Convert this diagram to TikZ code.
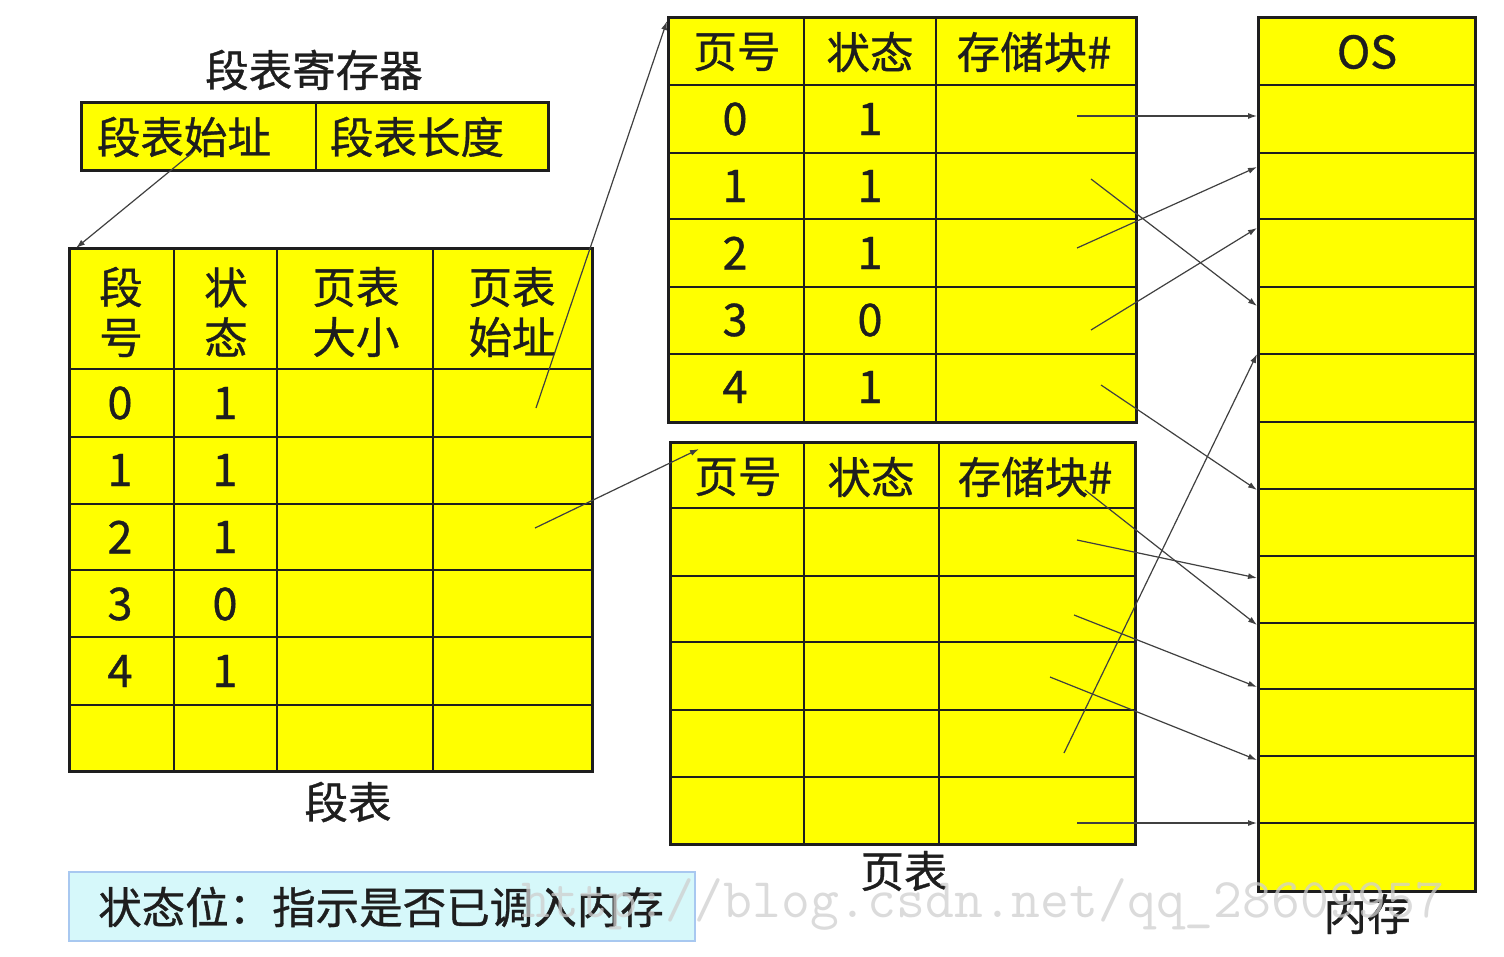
\documentclass[tikz,border=0pt]{standalone}
\usepackage{fontspec}
\newfontfamily\cjk[FakeBold=0.8]{Noto Sans CJK SC}
\usetikzlibrary{arrows.meta}
\definecolor{ybox}{HTML}{FFFF00}
\definecolor{ink}{HTML}{1E1E1E}
\definecolor{legfill}{HTML}{D6F8FA}
\definecolor{legline}{HTML}{A8C8F0}
\definecolor{wm}{HTML}{CFCFCF}
\begin{document}
\begin{tikzpicture}[x=1pt,y=-1pt,
  cjktext/.style={font=\cjk\fontsize{43.5}{50}\selectfont, text=ink, inner sep=0pt, align=center},
  digit/.style={font=\cjk\fontsize{45}{50}\selectfont, text=ink, inner sep=0pt},
  outer/.style={draw=ink, line width=3pt, fill=ybox},
  gridline/.style={draw=ink, line width=1.8pt},
  ptr/.style={draw=ink!85, line width=1.2pt, -{Latex[length=9pt,width=6pt]}},
  wmark/.style={font=\ttfamily\fontsize{56}{60}\selectfont, text=wm, inner sep=0pt, opacity=0.75},
]
\useasboundingbox (0,0) rectangle (1504,956);
\fill[white] (0,0) rectangle (1504,956);

% ---------- segment table register ----------
\node[cjktext] (regtitle) at (314,70) {段表寄存器};
\draw[outer] (81,102) rectangle (548,170);
\draw[gridline] (316,102) -- (316,170);
\node[cjktext] (regstart) at (184,137) {段表始址};
\node[cjktext] (reglen) at (417,137) {段表长度};

% ---------- segment table ----------
\draw[outer] (69,248) rectangle (592,771);
\foreach \x in {174,277,433} \draw[gridline] (\x,248) -- (\x,771);
\foreach \y in {369,437,504,570,637,705} \draw[gridline] (69,\y) -- (592,\y);
\node[cjktext] (sh1) at (121,312) {段\\号};
\node[cjktext] (sh2) at (226,312) {状\\态};
\node[cjktext] (sh3) at (356,312) {页表\\大小};
\node[cjktext] (sh4) at (512,312) {页表\\始址};
\foreach \r/\s [count=\i from 0] in {0/1,1/1,2/1,3/0,4/1}{
  \node[digit] (sn\i) at (120,{403+67*\i}) {\r};
  \node[digit] (ss\i) at (225,{403+67*\i}) {\s};
}
\node[cjktext] (segcap) at (348,802) {段表};

% ---------- page table 1 ----------
\draw[outer] (668,17) rectangle (1136,422);
\foreach \x in {804,936} \draw[gridline] (\x,17) -- (\x,422);
\foreach \y in {85,153,219,287,354} \draw[gridline] (668,\y) -- (1136,\y);
\node[cjktext] (p1h1) at (737,52) {页号};
\node[cjktext] (p1h2) at (870,52) {状态};
\node[cjktext] (p1h3) at (1034,52) {存储块\#};
\foreach \r/\s [count=\i from 0] in {0/1,1/1,2/1,3/0,4/1}{
  \node[digit] (p1n\i) at (735,{119+67*\i}) {\r};
  \node[digit] (p1s\i) at (870,{119+67*\i}) {\s};
}

% ---------- page table 2 ----------
\draw[outer] (670,442) rectangle (1135,844);
\foreach \x in {804,939} \draw[gridline] (\x,442) -- (\x,844);
\foreach \y in {508,576,642,710,777} \draw[gridline] (670,\y) -- (1135,\y);
\node[cjktext] (p2h1) at (738,477) {页号};
\node[cjktext] (p2h2) at (871,477) {状态};
\node[cjktext] (p2h3) at (1035,477) {存储块\#};
\node[cjktext] (pagecap) at (904,871) {页表};

% ---------- memory ----------
\draw[outer] (1258,17) rectangle (1475,891);
\foreach \y in {85,153,219,287,354,422,489,556,623,689,756,823} \draw[gridline] (1258,\y) -- (1475,\y);
\node[digit] (os) at (1367,52) {OS};
\node[cjktext] (memcap) at (1367,914) {内存};

% ---------- legend ----------
\draw[fill=legfill, draw=legline, line width=2pt] (69,872) rectangle (695,941);
\node[cjktext] (legend) at (381,907) {状态位：指示是否已调入内存};

% ---------- connectors ----------
\coordinate (c1s) at (192,153);  \coordinate (c1e) at (76,248);
\coordinate (c2s) at (536,408);  \coordinate (c2e) at (667,21);
\coordinate (c3s) at (535,528);  \coordinate (c3e) at (699,449);
\coordinate (pas) at (1077,116); \coordinate (pae) at (1257,116);
\coordinate (pbs) at (1091,179); \coordinate (pbe) at (1257,306);
\coordinate (pcs) at (1077,248); \coordinate (pce) at (1257,167);
\coordinate (pds) at (1091,330); \coordinate (pde) at (1257,228);
\coordinate (pes) at (1101,385); \coordinate (pee) at (1257,490);
\coordinate (pfs) at (1064,753); \coordinate (pfe) at (1257,354);
\coordinate (pgs) at (1085,490); \coordinate (pge) at (1257,625);
\coordinate (phs) at (1077,540); \coordinate (phe) at (1257,578);
\coordinate (pis) at (1074,615); \coordinate (pie) at (1257,687);
\coordinate (pjs) at (1050,677); \coordinate (pje) at (1257,760);
\coordinate (pks) at (1077,823); \coordinate (pke) at (1257,823);
\foreach \a in {c1,c2,c3,pa,pb,pc,pd,pe,pf,pg,ph,pi,pj,pk}
  \draw[ptr] (\a s) -- (\a e);

% ---------- watermark ----------
\node[wmark, anchor=base] (wmtext) at (983,917) {http://blog.csdn.net/qq\_28609957};
\end{tikzpicture}
\end{document}
